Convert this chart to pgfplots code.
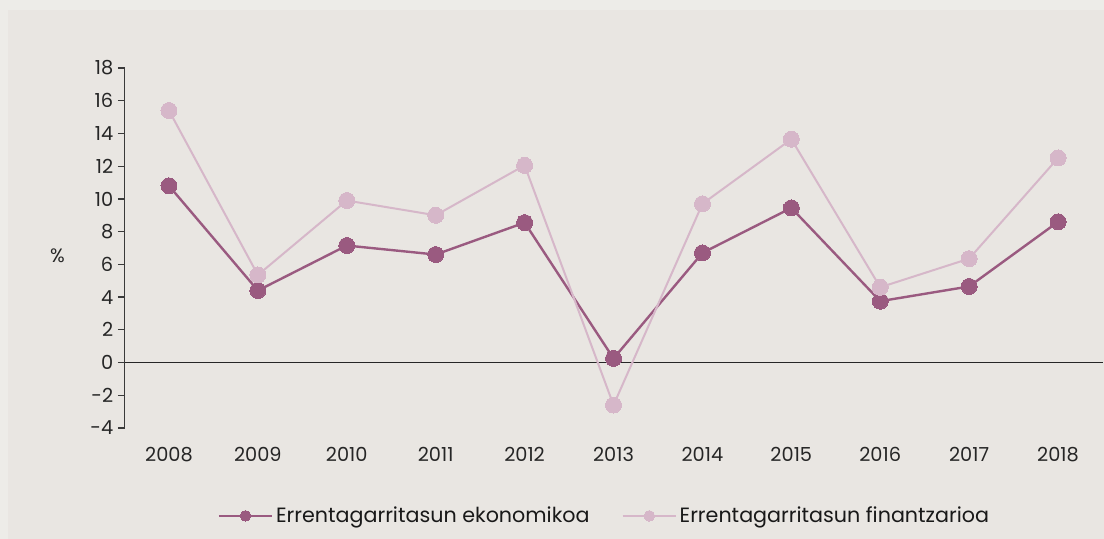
\documentclass[border=0pt]{standalone}
\usepackage{pgfplots}
\pgfplotsset{compat=1.18}
\usepackage{fontspec}
\setmainfont{Poppins}
\definecolor{outerbg}{HTML}{EDECE8}
\definecolor{innerbg}{HTML}{E9E6E2}
\definecolor{eko}{HTML}{9A5A80}
\definecolor{fin}{HTML}{D6B7C9}
\definecolor{axgray}{HTML}{3A3A3A}
\begin{document}
\begin{tikzpicture}
\useasboundingbox (0,0) rectangle (828pt,404.25pt);
\fill[outerbg] (0,0) rectangle (828pt,404.25pt);
\fill[innerbg] (6pt,0) rectangle (828pt,396.75pt);
\begin{axis}[
  at={(93.4pt,83.25pt)}, anchor=south west,
  scale only axis, width=733.5pt, height=270pt,
  xmin=2007.5, xmax=2018.5, ymin=-4, ymax=18,
  axis x line*=bottom, axis y line*=left,
  x axis line style={draw=none},
  y axis line style={draw=axgray, line width=0.9pt, -},
  xtick={2008,...,2018},
  ytick={-4,-2,...,18},
  yticklabels={-4,-2,0,2,4,6,8,10,12,14,16,18},
  tick align=outside,
  major tick length=5pt,
  xtick style={draw=none},
  ytick style={draw=axgray, line width=0.9pt},
  ticklabel style={font=\fontsize{14.5}{17}\selectfont, text=black!85},
  xticklabel style={yshift=-6pt},
  /pgf/number format/assume math mode=true,
  /pgf/number format/1000 sep={},
  clip=false,
  legend columns=2,
  legend style={draw=none, fill=none, at={(0.491,-0.244)}, anchor=center,
    font=\fontsize{15.5}{18}\selectfont, text=black!90,
    /tikz/every even column/.append style={column sep=22pt}},
  legend image code/.code={\draw[mark repeat=2,mark phase=2, mark size=4pt] plot coordinates {(0pt,0pt) (20pt,0pt) (40pt,0pt)};},
]
\draw[black!85, line width=1pt] (axis cs:2007.5,0) -- (axis cs:2018.5,0);
\node[font=\fontsize{14.5}{17}\selectfont, text=black!85] at (axis description cs:-0.0685,0.478) {\%};
\addplot[eko, line width=1.8pt, mark=*, mark size=6pt, mark options={fill=eko, draw=eko, line width=0pt}] coordinates {
(2008,10.8) (2009,4.4) (2010,7.15) (2011,6.6) (2012,8.55) (2013,0.25) (2014,6.7) (2015,9.45) (2016,3.75) (2017,4.65) (2018,8.6)};
\addlegendentry{Errentagarritasun ekonomikoa}
\addplot[fin, line width=1.5pt, mark=*, mark size=6pt, mark options={fill=fin, draw=fin, line width=0pt}] coordinates {
(2008,15.4) (2009,5.35) (2010,9.9) (2011,9.0) (2012,12.05) (2013,-2.6) (2014,9.7) (2015,13.65) (2016,4.6) (2017,6.35) (2018,12.5)};
\addlegendentry{Errentagarritasun finantzarioa}
\end{axis}
\end{tikzpicture}
\end{document}
